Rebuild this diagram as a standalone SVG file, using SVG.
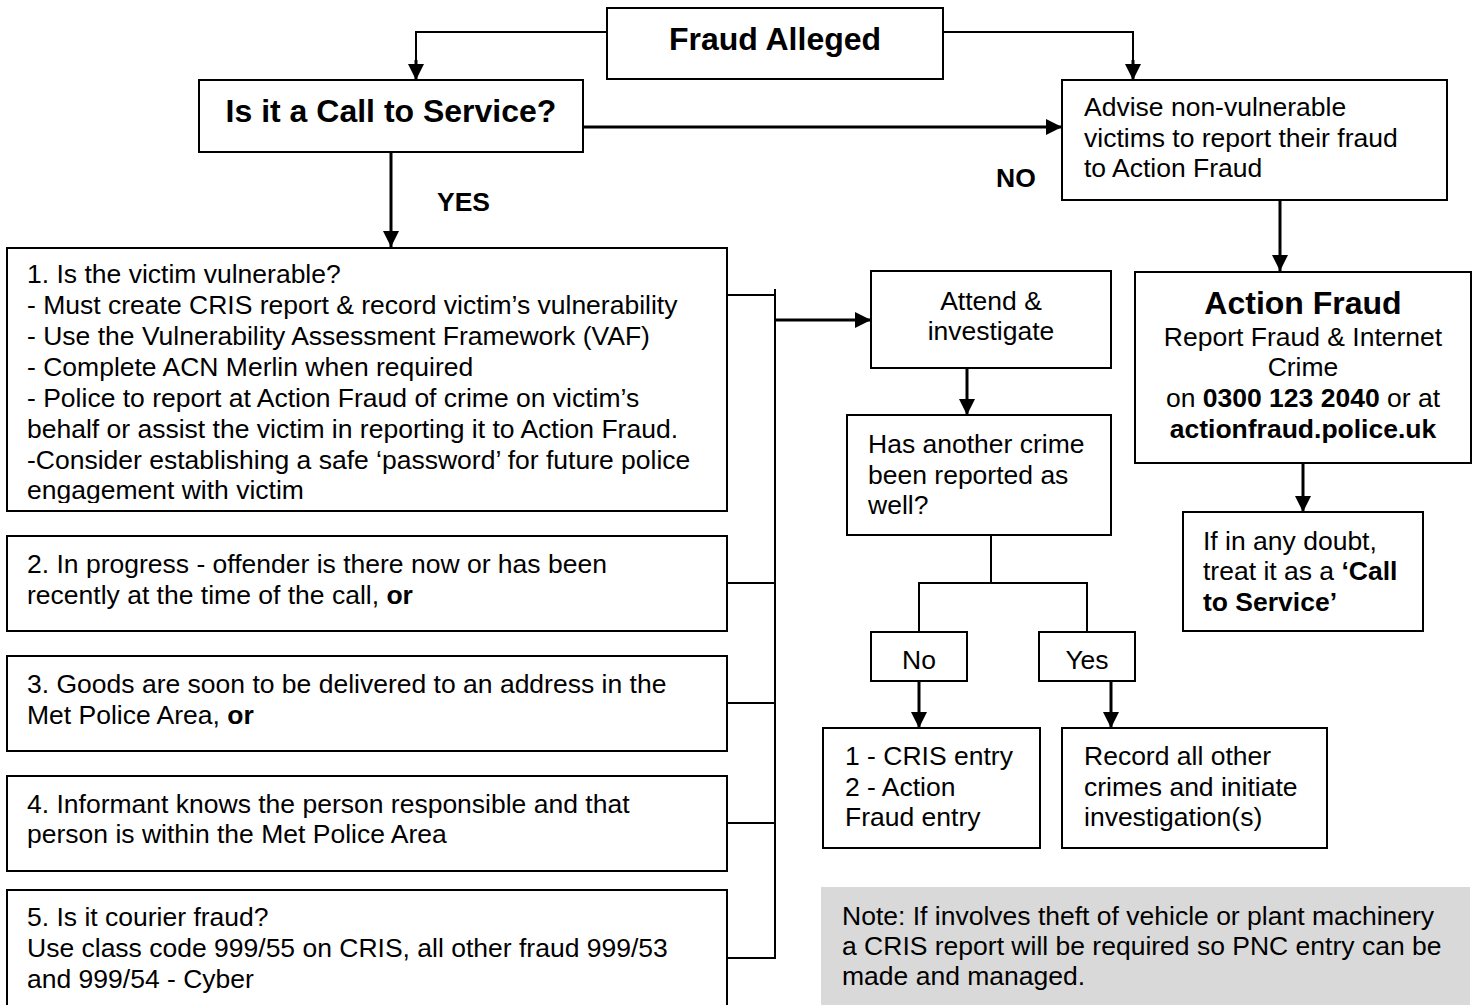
<svg xmlns="http://www.w3.org/2000/svg" width="1478" height="1005" viewBox="0 0 1478 1005">
<defs>
<style>
.box{fill:#fff;stroke:#000;stroke-width:2}
.t{font-family:"Liberation Sans",Arial,sans-serif;font-size:26.5px;fill:#000}
.b{font-weight:bold}
.big{font-family:"Liberation Sans",Arial,sans-serif;font-size:32px;font-weight:bold;fill:#000}
.c{text-anchor:middle}
.ln{fill:none;stroke:#000;stroke-width:2}
.ar{fill:none;stroke:#000;stroke-width:3}
</style>
<marker id="ah" markerUnits="userSpaceOnUse" markerWidth="16" markerHeight="16" viewBox="0 0 16 16" refX="16" refY="8" orient="auto">
<path d="M0,0 L16,8 L0,16 Z" fill="#000"/>
</marker>
<clipPath id="clip1"><rect x="7" y="248" width="720" height="255"/></clipPath>
</defs>
<rect width="1478" height="1005" fill="#fff"/>

<g id="connectors">
<polyline class="ln" points="607,32 416,32 416,64" />
<line class="ar" x1="416" y1="60" x2="416" y2="80" marker-end="url(#ah)"/>
<polyline class="ln" points="943,32 1133,32 1133,64"/>
<line class="ar" x1="1133" y1="60" x2="1133" y2="80" marker-end="url(#ah)"/>
<line class="ar" x1="583" y1="127" x2="1062" y2="127" marker-end="url(#ah)"/>
<line class="ar" x1="391" y1="152" x2="391" y2="247" marker-end="url(#ah)"/>
<line class="ar" x1="1280" y1="200" x2="1280" y2="271" marker-end="url(#ah)"/>
<line class="ar" x1="1303" y1="463" x2="1303" y2="512" marker-end="url(#ah)"/>
<line class="ln" x1="727" y1="295" x2="775" y2="295"/>
<line class="ln" x1="727" y1="583" x2="775" y2="583"/>
<line class="ln" x1="727" y1="703" x2="775" y2="703"/>
<line class="ln" x1="727" y1="823" x2="775" y2="823"/>
<line class="ln" x1="727" y1="958" x2="775" y2="958"/>
<line class="ln" x1="775" y1="289" x2="775" y2="959"/>
<line class="ar" x1="775" y1="320" x2="871" y2="320" marker-end="url(#ah)"/>
<line class="ar" x1="967" y1="368" x2="967" y2="415" marker-end="url(#ah)"/>
<polyline class="ln" points="991,535 991,583"/>
<polyline class="ln" points="919,632 919,583 1087,583 1087,632"/>
<line class="ar" x1="919" y1="681" x2="919" y2="728" marker-end="url(#ah)"/>
<line class="ar" x1="1111" y1="681" x2="1111" y2="728" marker-end="url(#ah)"/>
</g>

<g id="fraud-alleged">
<rect class="box" x="607" y="8" width="336" height="71"/>
<text class="big c" x="775" y="49.5">Fraud Alleged</text>
</g>

<g id="call-to-service">
<rect class="box" x="199" y="80" width="384" height="72"/>
<text class="big c" x="391" y="121.5">Is it a Call to Service?</text>
</g>

<g id="label-yes"><text class="t b" x="437" y="210.5">YES</text></g>
<g id="label-no"><text class="t b" x="996" y="186.5">NO</text></g>

<g id="advise">
<rect class="box" x="1062" y="80" width="385" height="120"/>
<text class="t" x="1084" y="116">Advise non-vulnerable</text>
<text class="t" x="1084" y="147">victims to report their fraud</text>
<text class="t" x="1084" y="177">to Action Fraud</text>
</g>

<g id="action-fraud">
<rect class="box" x="1135" y="272" width="336" height="191"/>
<text class="big c" x="1303" y="314">Action Fraud</text>
<text class="t c" x="1303" y="345.5">Report Fraud &amp; Internet</text>
<text class="t c" x="1303" y="375.5">Crime</text>
<text class="t c" x="1303" y="406.5">on <tspan class="b">0300 123 2040</tspan> or at</text>
<text class="t c b" x="1303" y="437.5">actionfraud.police.uk</text>
</g>

<g id="if-in-doubt">
<rect class="box" x="1183" y="512" width="240" height="119"/>
<text class="t" x="1203" y="549.5">If in any doubt,</text>
<text class="t" x="1203" y="579.5">treat it as a <tspan class="b">‘Call</tspan></text>
<text class="t b" x="1203" y="610.5">to Service’</text>
</g>

<g id="box1">
<rect class="box" x="7" y="248" width="720" height="263"/>
<g clip-path="url(#clip1)">
<text class="t" x="27" y="283">1. Is the victim vulnerable?</text>
<text class="t" x="27" y="314">- Must create CRIS report &amp; record victim’s vulnerability</text>
<text class="t" x="27" y="345">- Use the Vulnerability Assessment Framework (VAF)</text>
<text class="t" x="27" y="376">- Complete ACN Merlin when required</text>
<text class="t" x="27" y="407">- Police to report at Action Fraud of crime on victim’s</text>
<text class="t" x="27" y="438">behalf or assist the victim in reporting it to Action Fraud.</text>
<text class="t" x="27" y="469">-Consider establishing a safe ‘password’ for future police</text>
<text class="t" x="27" y="499">engagement with victim</text>
</g>
</g>

<g id="box2">
<rect class="box" x="7" y="536" width="720" height="95"/>
<text class="t" x="27" y="572.5">2. In progress - offender is there now or has been</text>
<text class="t" x="27" y="603.5">recently at the time of the call, <tspan class="b">or</tspan></text>
</g>

<g id="box3">
<rect class="box" x="7" y="656" width="720" height="95"/>
<text class="t" x="27" y="692.5">3. Goods are soon to be delivered to an address in the</text>
<text class="t" x="27" y="723.5">Met Police Area, <tspan class="b">or</tspan></text>
</g>

<g id="box4">
<rect class="box" x="7" y="776" width="720" height="95"/>
<text class="t" x="27" y="812.5">4. Informant knows the person responsible and that</text>
<text class="t" x="27" y="842.5">person is within the Met Police Area</text>
</g>

<g id="box5">
<rect class="box" x="7" y="890" width="720" height="125"/>
<text class="t" x="27" y="925.5">5. Is it courier fraud?</text>
<text class="t" x="27" y="956.5">Use class code 999/55 on CRIS, all other fraud 999/53</text>
<text class="t" x="27" y="987.5">and 999/54 - Cyber</text>
</g>

<g id="attend">
<rect class="box" x="871" y="271" width="240" height="97"/>
<text class="t c" x="991" y="309.5">Attend &amp;</text>
<text class="t c" x="991" y="339.5">investigate</text>
</g>

<g id="another-crime">
<rect class="box" x="847" y="415" width="264" height="120"/>
<text class="t" x="868" y="452.5">Has another crime</text>
<text class="t" x="868" y="483.5">been reported as</text>
<text class="t" x="868" y="513.5">well?</text>
</g>

<g id="no-box">
<rect class="box" x="871" y="632" width="96" height="49"/>
<text class="t c" x="919" y="668.5">No</text>
</g>

<g id="yes-box">
<rect class="box" x="1039" y="632" width="96" height="49"/>
<text class="t c" x="1087" y="668.5">Yes</text>
</g>

<g id="cris-entry">
<rect class="box" x="823" y="728" width="217" height="120"/>
<text class="t" x="845" y="764.5">1 - CRIS entry</text>
<text class="t" x="845" y="795.5">2 - Action</text>
<text class="t" x="845" y="825.5">Fraud entry</text>
</g>

<g id="record-all">
<rect class="box" x="1062" y="728" width="265" height="120"/>
<text class="t" x="1084" y="764.5">Record all other</text>
<text class="t" x="1084" y="795.5">crimes and initiate</text>
<text class="t" x="1084" y="825.5">investigation(s)</text>
</g>

<g id="note">
<rect x="821" y="887" width="649" height="118" fill="#d9d9d9"/>
<text class="t" x="842" y="924.5">Note: If involves theft of vehicle or plant machinery</text>
<text class="t" x="842" y="954.5">a CRIS report will be required so PNC entry can be</text>
<text class="t" x="842" y="984.5">made and managed.</text>
</g>
</svg>
